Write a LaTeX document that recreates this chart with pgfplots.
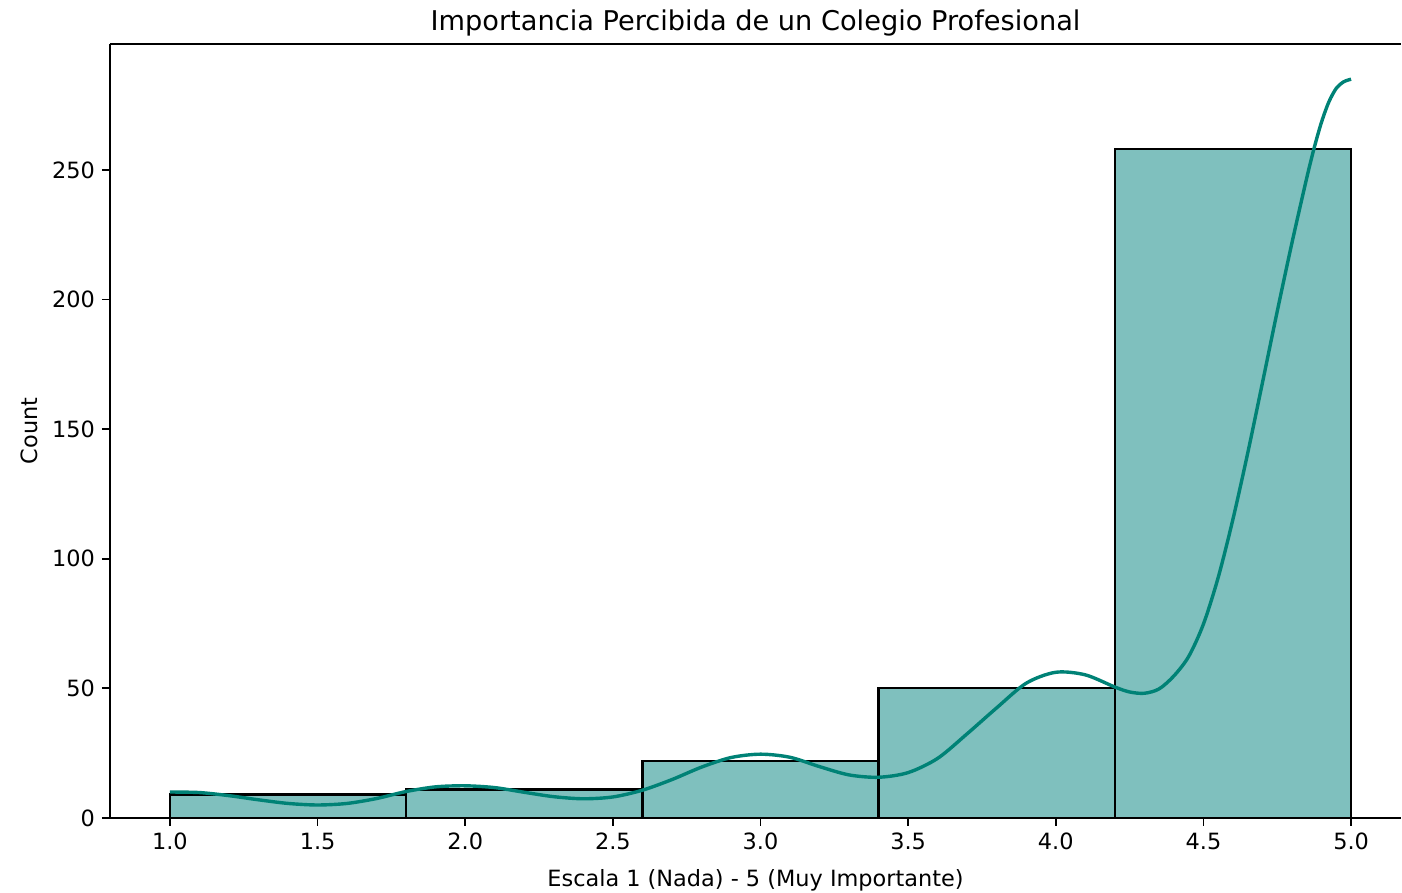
\documentclass[border=0pt]{standalone}
\usepackage{fontspec}
\setmainfont{DejaVu Sans}
\usepackage{pgfplots}
\pgfplotsset{compat=1.18}
\definecolor{barfill}{RGB}{127,192,190}
\definecolor{kde}{RGB}{0,130,118}
\begin{document}
\begin{tikzpicture}
\begin{axis}[
  scale only axis,
  width=645.5pt, height=387pt,
  xmin=0.797, xmax=5.169,
  ymin=0, ymax=298.6,
  axis x line*=box, axis y line*=left,
  axis line style={line width=0.91pt},
  xtick={1,1.5,2,2.5,3,3.5,4,4.5,5},
  ytick={0,50,100,150,200,250},
  xtick pos=bottom, ytick pos=left,
  tick align=outside,
  major tick length=4pt,
  every tick/.style={black, line width=0.91pt},
  /pgf/number format/assume math mode=true,
  tick label style={font=\fontsize{11.2}{13}\selectfont},
  xticklabel style={/pgf/number format/.cd, fixed, fixed zerofill, precision=1},
  yticklabel style={/pgf/number format/.cd, fixed, precision=0},
  title={Importancia Percibida de un Colegio Profesional},
  title style={font=\fontsize{13.6}{16}\selectfont, at={(axis description cs:0.5,1.0013)}, anchor=base},
  xlabel={Escala 1 (Nada) - 5 (Muy Importante)},
  xlabel style={font=\fontsize{11.2}{13}\selectfont, at={(axis description cs:0.5,-0.0885)}, anchor=base},
  ylabel={Count},
  ylabel style={font=\fontsize{11.2}{13}\selectfont, at={(axis description cs:-0.0558,0.5)}, anchor=base},
  after end axis/.code={
    \coordinate (bbl) at (rel axis cs:-0.0852,-0.0969);
    \coordinate (btr) at (rel axis cs:1.0008,1.0568);
  },
]
\addplot[ybar interval, fill=barfill, draw=black, line width=1.14pt]
  coordinates {(1.0,9) (1.8,11) (2.6,22) (3.4,50) (4.2,258) (5.0,258)};
\addplot[kde, line width=1.7pt, smooth, no markers] coordinates {
(1.0,10.0) (1.1,9.8) (1.2,8.6) (1.3,7.0) (1.4,5.6) (1.5,5.0) (1.6,5.6) (1.7,7.5)
(1.8,10.2) (1.9,12.0) (2.0,12.4) (2.1,11.7) (2.2,9.9) (2.3,8.2) (2.4,7.4) (2.5,8.1)
(2.6,10.7) (2.7,14.8) (2.8,19.6) (2.9,23.3) (3.0,24.6) (3.1,23.4) (3.2,19.8) (3.3,16.6)
(3.4,15.7) (3.5,17.5) (3.6,23.0) (3.7,32.5) (3.8,42.5) (3.9,52.0) (4.0,56.2) (4.1,55.2)
(4.2,50.5) (4.25,48.6) (4.3,48.1) (4.35,49.8) (4.4,54.8) (4.45,62.3) (4.5,74.8) (4.55,92.8)
(4.6,115.3) (4.65,140.8) (4.7,168) (4.75,195.5) (4.8,222) (4.85,247) (4.875,258.5) (4.9,268.5)
(4.925,276.3) (4.95,281.5) (4.975,284) (5.0,285)
};
\end{axis}
\pgfresetboundingbox
\path (bbl) rectangle (btr);
\end{tikzpicture}
\end{document}
